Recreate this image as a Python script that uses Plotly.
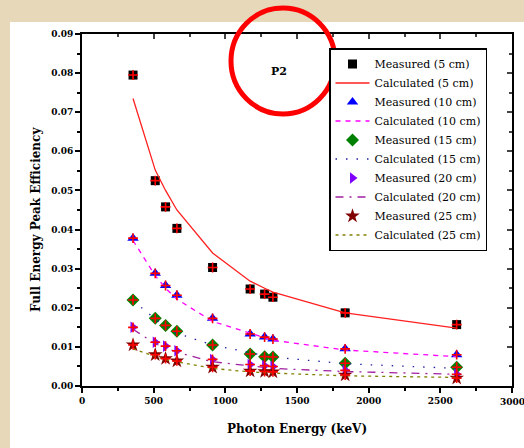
import plotly.graph_objects as go

energy = [356, 511, 583, 662, 911, 1173, 1274, 1332, 1836, 2614]

meas_5 = [0.0795, 0.0525, 0.0458, 0.0403, 0.0303, 0.0248, 0.0235, 0.0227, 0.0187, 0.0157]
calc_5 = [0.0735, 0.0552, 0.0500, 0.0450, 0.0340, 0.0268, 0.0250, 0.0240, 0.0187, 0.0148]

meas_10 = [0.0378, 0.0288, 0.0257, 0.0232, 0.0173, 0.0133, 0.0125, 0.0120, 0.0095, 0.0080]
calc_10 = [0.0372, 0.0282, 0.0250, 0.0222, 0.0165, 0.0135, 0.0122, 0.0117, 0.0092, 0.0075]

meas_15 = [0.0220, 0.0173, 0.0155, 0.0140, 0.0105, 0.0082, 0.0075, 0.0074, 0.0058, 0.0048]
calc_15 = [0.0218, 0.0170, 0.0150, 0.0135, 0.0105, 0.0085, 0.0078, 0.0074, 0.0057, 0.0045]

meas_20 = [0.0150, 0.0112, 0.0102, 0.0090, 0.0068, 0.0055, 0.0052, 0.0050, 0.0040, 0.0030]
calc_20 = [0.0145, 0.0108, 0.0098, 0.0086, 0.0062, 0.0052, 0.0048, 0.0045, 0.0037, 0.0030]

meas_25 = [0.0105, 0.0080, 0.0070, 0.0064, 0.0048, 0.0038, 0.0037, 0.0036, 0.0028, 0.0020]
calc_25 = [0.0095, 0.0075, 0.0067, 0.0062, 0.0045, 0.0036, 0.0034, 0.0033, 0.0026, 0.0022]

labels_meas = ["Measured (5 cm)", "Measured (10 cm)", "Measured (15 cm)", "Measured (20 cm)", "Measured (25 cm)"]
labels_calc = ["Calculated (5 cm)", "Calculated (10 cm)", "Calculated (15 cm)", "Calculated (20 cm)", "Calculated (25 cm)"]

x_ticks = [0, 500, 1000, 1500, 2000, 2500, 3000]
y_ticks = [0.00, 0.01, 0.02, 0.03, 0.04, 0.05, 0.06, 0.07, 0.08, 0.09]

meas = [meas_5, meas_10, meas_15, meas_20, meas_25]
calc = [calc_5, calc_10, calc_15, calc_20, calc_25]
symbols = ["square", "triangle-up", "diamond", "triangle-right", "star"]
mcolors = ["#000000", "#0000ff", "#008000", "#8000ff", "#800000"]
msizes = [9, 10, 10, 10, 11]
lcolors = ["#ff2020", "#ff00ff", "#2020a0", "#a020a0", "#808000"]
ldash = ["solid", "5px,5px", "1.5px,9px", "8px,6px,2px,6px", "3px,4px"]

SERIF = "DejaVu Serif, Liberation Serif, serif"

fig = go.Figure()
for i in range(5):
    fig.add_trace(go.Scatter(
        x=energy, y=meas[i], mode="markers", name=labels_meas[i],
        marker=dict(symbol=symbols[i], color=mcolors[i], size=msizes[i], line=dict(width=0)),
    ))
    fig.add_trace(go.Scatter(
        x=energy, y=calc[i], mode="lines", name=labels_calc[i],
        line=dict(color=lcolors[i], width=1.3, dash=ldash[i]),
    ))
for i in range(5):
    fig.add_trace(go.Scatter(
        x=energy, y=meas[i], mode="markers", showlegend=False, hoverinfo="skip",
        marker=dict(symbol="cross-thin", size=7, line=dict(color="#ff0000", width=1.6)),
    ))

tickfont = dict(family=SERIF, size=9, color="#000000", weight="bold")
axis_common = dict(showline=True, linecolor="#000000", linewidth=2, ticks="outside",
                   ticklen=5, tickwidth=2, tickcolor="#000000", showgrid=False, zeroline=False,
                   automargin=False)

fig.update_layout(
    width=524, height=448,
    margin=dict(l=82, r=12, t=34, b=62),
    paper_bgcolor="#e6d8b8",
    plot_bgcolor="#ffffff",
    showlegend=True,
    legend=dict(x=(329 - 82) / 430, y=(386 - 48) / 352, xanchor="left", yanchor="top",
                bgcolor="#ffffff", bordercolor="#000000", borderwidth=1.5,
                font=dict(family=SERIF, size=11, color="#000000"),
                tracegroupgap=0, itemwidth=34),
    xaxis=dict(range=[0, 3000], tickvals=x_ticks, ticktext=[str(v) for v in x_ticks],
               minor=dict(dtick=250, ticks="outside", ticklen=3, tickwidth=1.5, tickcolor="#000000"),
               tickfont=tickfont,
               title=dict(text="<b>Photon Energy (keV)</b>", font=dict(family=SERIF, size=12, color="#000000"), standoff=20),
               **axis_common),
    yaxis=dict(range=[0, 0.09], tickvals=y_ticks, ticktext=["%.2f" % v for v in y_ticks],
               minor=dict(dtick=0.005, ticks="outside", ticklen=3, tickwidth=1.5, tickcolor="#000000"),
               tickfont=tickfont,
               **axis_common),
    xaxis2=dict(range=[0, 3000], overlaying="x", side="top", anchor="y", showline=True, linecolor="#000000", linewidth=2,
                ticks="inside", ticklen=5, tickwidth=2, tickvals=x_ticks, showticklabels=False,
                minor=dict(dtick=250, ticks="inside", ticklen=3, tickwidth=1.5),
                showgrid=False, zeroline=False, automargin=False),
    yaxis2=dict(range=[0, 0.09], overlaying="y", side="right", anchor="x", showline=True, linecolor="#000000", linewidth=2,
                ticks="inside", ticklen=5, tickwidth=2, tickvals=y_ticks, showticklabels=False,
                minor=dict(dtick=0.005, ticks="inside", ticklen=3, tickwidth=1.5),
                showgrid=False, zeroline=False, automargin=False),
)
fig.add_trace(go.Scatter(x=[None], y=[None], xaxis="x2", yaxis="y2", showlegend=False, hoverinfo="skip"))

# white panel behind the figure
fig.add_shape(type="rect", xref="paper", yref="paper", x0=(10 - 82) / 430, x1=1.1, y0=-0.2, y1=(386 - 22) / 352,
              fillcolor="#ffffff", line=dict(width=0), layer="below")

# last x tick label, which runs off the right edge of the page as in the original
fig.add_annotation(x=x_ticks[-1], xref="x", y=0, yref="paper", yanchor="top", yshift=-9,
                   text=str(x_ticks[-1]), showarrow=False, font=tickfont)

# y-axis title
fig.add_annotation(x=(27 - 82) / 430, y=(386 - 220) / 352, xref="paper", yref="paper",
                   text="<b>Full Energy Peak Efficiency</b>", textangle=-90, showarrow=False,
                   font=dict(family=SERIF, size=12, color="#000000"))

fig.add_annotation(x=(279 - 82) / 430, y=(386 - 63) / 352, xref="paper", yref="paper", text="<b>P2</b>", showarrow=False,
                   font=dict(family=SERIF, size=11, color="#000000"))
fig.add_shape(type="circle", xref="paper", yref="paper",
              x0=(231 - 82) / 430, x1=(335 - 82) / 430, y0=(386 - 114) / 352, y1=(386 - 8) / 352,
              line=dict(color="#ff0000", width=5), fillcolor="rgba(0,0,0,0)", layer="above")

fig.write_html("out.html")
